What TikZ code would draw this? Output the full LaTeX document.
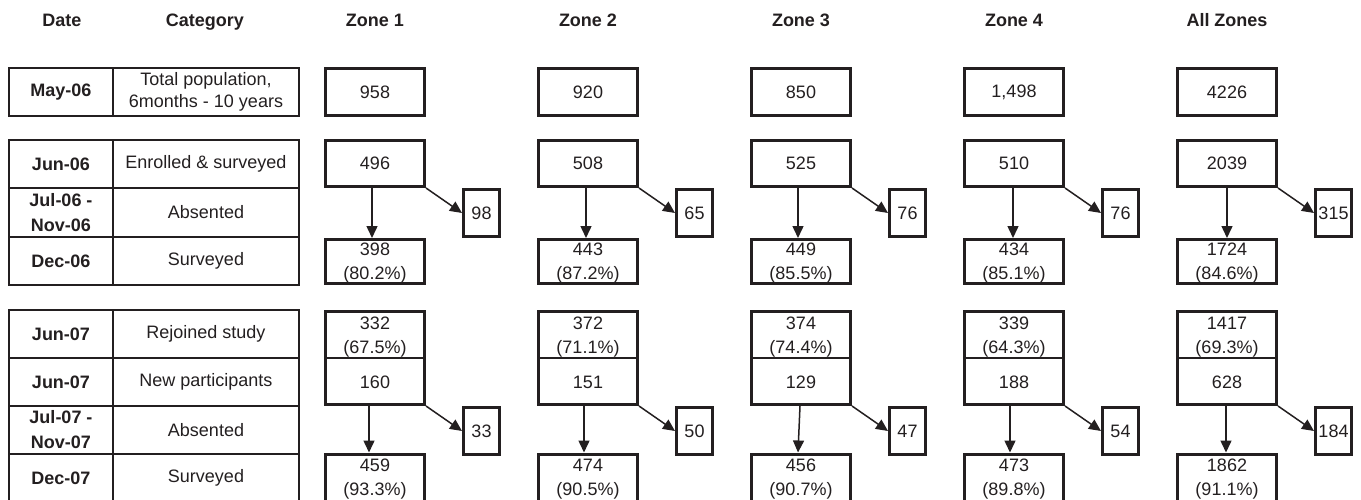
\documentclass[tikz,border=0pt]{standalone}
\usepackage{fontspec}
\setmainfont{Liberation Sans}
\usetikzlibrary{arrows.meta}
\definecolor{ink}{RGB}{35,31,32}
\begin{document}
\begin{tikzpicture}[x=1pt,y=-1pt,
  every node/.style={font=\fontsize{18}{24}\selectfont, text=ink, inner sep=0pt, align=center},
  hdr/.style={font=\fontsize{18}{24}\selectfont\bfseries, anchor=base},
  dcell/.style={draw=ink, line width=1.8pt, minimum width=104pt, minimum height=48pt, font=\fontsize{18}{25}\selectfont\bfseries},
  ccell/.style={draw=ink, line width=1.8pt, minimum width=186pt, minimum height=48pt, font=\fontsize{18}{22}\selectfont},
  zbox/.style={draw=ink, line width=3pt, minimum width=99pt},
  sbox/.style={draw=ink, line width=3pt, minimum width=36pt, minimum height=47pt},
  divline/.style={draw=ink, line width=1.5pt},
  arr/.style={draw=ink, line width=1.5pt, -{Triangle[length=12pt,width=11pt]}}
]
\useasboundingbox (0,0) rectangle (1361,500);
\clip (0,0) rectangle (1361,500);

% headers
\node[hdr] (hdate) at (62,26.5) {Date};
\node[hdr] (hcat) at (205,26.5) {Category};

% left table
\node[dcell] (d1) at (61,92) {May-06};
\node[ccell] (c1) at (206,92) {Total population,\\6months - 10 years};
\node[dcell] (d2) at (61,164) {Jun-06};
\node[ccell] (c2) at (206,164) {Enrolled \& surveyed};
\node[dcell] (d3) at (61,212.5) {Jul-06 -\\Nov-06};
\node[ccell] (c3) at (206,212.5) {Absented};
\node[dcell] (d4) at (61,261) {Dec-06};
\node[ccell] (c4) at (206,261) {Surveyed};
\node[dcell] (d5) at (61,334) {Jun-07};
\node[ccell] (c5) at (206,334) {Rejoined study};
\node[dcell] (d6) at (61,382) {Jun-07};
\node[ccell] (c6) at (206,382) {New participants};
\node[dcell] (d7) at (61,430) {Jul-07 -\\Nov-07};
\node[ccell] (c7) at (206,430) {Absented};
\node[dcell] (d8) at (61,478) {Dec-07};
\node[ccell] (c8) at (206,478) {Surveyed};

% zone columns
\foreach \zI/\zL/\zH/\vA/\vB/\vS/\vC/\vCp/\vD/\vDp/\vE/\vT/\vF/\vFp/\xA/\xB/\xC in {
  1/324/Zone 1/958/496/98/398/80.2/332/67.5/160/33/459/93.3/-3/-6/-6,
  2/537/Zone 2/920/508/65/443/87.2/372/71.1/151/50/474/90.5/-2/-4/-4,
  3/750/Zone 3/850/525/76/449/85.5/374/74.4/129/47/456/90.7/-3/-1/-3,
  4/963/Zone 4/{1,498}/510/76/434/85.1/339/64.3/188/54/473/89.8/-1/-4/-4,
  5/1176/All Zones/4226/2039/315/1724/84.6/1417/69.3/628/184/1862/91.1/0/-1/-1}{
  \pgfmathsetmacro\cX{\zL+51}
  \pgfmathsetmacro\sX{\zL+157.5}
  \node[hdr] (h\zI) at (\cX,26.5) {\zH};
  \node[zbox, minimum height=47pt] (z\zI a) at (\cX,92) {\vA};
  \node[zbox, minimum height=46pt] (z\zI b) at (\cX,163.5) {\vB};
  \node[sbox] (z\zI s) at (\sX,213) {\vS};
  \node[zbox, minimum height=44pt] (z\zI c) at (\cX,261.5) {};
  \node (z\zI ct) at (\cX,263.5) {\vC\\(\vCp\%)};
  \node[zbox, minimum height=93pt] (z\zI d) at (\cX,358) {};
  \draw[divline] (z\zI d.west) -- (z\zI d.east);
  \node (z\zI dt) at (\cX,337) {\vD\\(\vDp\%)};
  \node (z\zI e) at (\cX,382) {\vE};
  \node[sbox] (z\zI t) at (\sX,431) {\vT};
  \node[zbox, minimum height=50pt] (z\zI f) at (\cX,479) {};
  \node (z\zI ft) at (\cX,479.5) {\vF\\(\vFp\%)};
  \draw[arr] ([xshift={\xA*1pt}]z\zI b.south) -- ([xshift={\xA*1pt}]z\zI c.north);
  \draw[arr] (z\zI b.south east) -- (z\zI s.west);
  \draw[arr] ([xshift={\xB*1pt}]z\zI d.south) -- ([xshift={\xC*1pt}]z\zI f.north);
  \draw[arr] (z\zI d.south east) -- (z\zI t.west);
}
\end{tikzpicture}
\end{document}
